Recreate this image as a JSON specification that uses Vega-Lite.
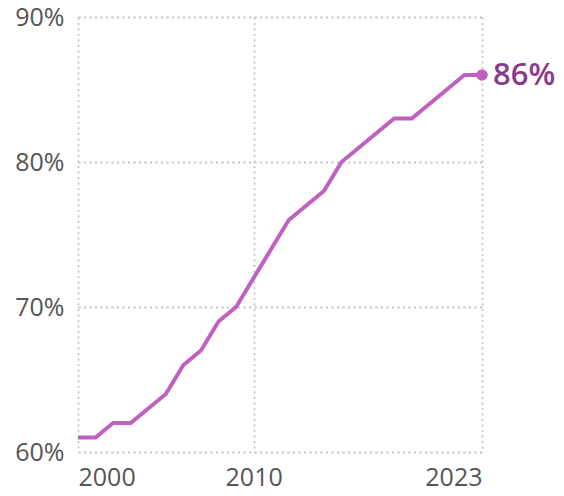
{
  "$schema": "https://vega.github.io/schema/vega-lite/v6.json",
  "width": 404,
  "height": 435,
  "autosize": {"type": "none"},
  "padding": {"left": 78, "top": 17, "right": 82, "bottom": 44},
  "background": "white",
  "config": {
    "view": {"stroke": null},
    "font": "Open Sans",
    "axis": {
      "domain": false,
      "ticks": false,
      "grid": true,
      "gridColor": "#c4c4c4",
      "gridDash": [2, 3.5],
      "gridWidth": 1.8,
      "labelFont": "Open Sans",
      "labelFontSize": 25,
      "labelColor": "#555555",
      "title": null
    }
  },
  "data": {
    "values": [
      {"year": 2000, "pct": 61},
      {"year": 2001, "pct": 61},
      {"year": 2002, "pct": 62},
      {"year": 2003, "pct": 62},
      {"year": 2004, "pct": 63},
      {"year": 2005, "pct": 64},
      {"year": 2006, "pct": 66},
      {"year": 2007, "pct": 67},
      {"year": 2008, "pct": 69},
      {"year": 2009, "pct": 70},
      {"year": 2010, "pct": 72},
      {"year": 2011, "pct": 74},
      {"year": 2012, "pct": 76},
      {"year": 2013, "pct": 77},
      {"year": 2014, "pct": 78},
      {"year": 2015, "pct": 80},
      {"year": 2016, "pct": 81},
      {"year": 2017, "pct": 82},
      {"year": 2018, "pct": 83},
      {"year": 2019, "pct": 83},
      {"year": 2020, "pct": 84},
      {"year": 2021, "pct": 85},
      {"year": 2022, "pct": 86},
      {"year": 2023, "pct": 86}
    ]
  },
  "encoding": {
    "x": {
      "field": "year",
      "type": "quantitative",
      "scale": {"domain": [2000, 2023], "nice": false, "zero": false},
      "axis": {"values": [2000, 2010, 2023], "format": "d", "labelFlush": true, "labelPadding": 13}
    },
    "y": {
      "field": "pct",
      "type": "quantitative",
      "scale": {"domain": [60, 90], "nice": false, "zero": false},
      "axis": {"values": [60, 70, 80, 90], "labelExpr": "datum.value + '%'", "labelPadding": 14}
    }
  },
  "layer": [
    {"mark": {"type": "line", "color": "#c060c0", "strokeWidth": 4, "clip": false}},
    {
      "transform": [{"filter": "datum.year == 2023"}],
      "mark": {"type": "point", "filled": true, "color": "#c060c0", "size": 130, "opacity": 1}
    },
    {
      "transform": [{"filter": "datum.year == 2023"}],
      "mark": {"type": "text", "align": "left", "baseline": "middle", "dx": 11, "dy": 1, "fontSize": 31, "fontWeight": 600, "color": "#8b3a8b", "font": "Open Sans"},
      "encoding": {"text": {"value": "86%"}}
    }
  ]
}
